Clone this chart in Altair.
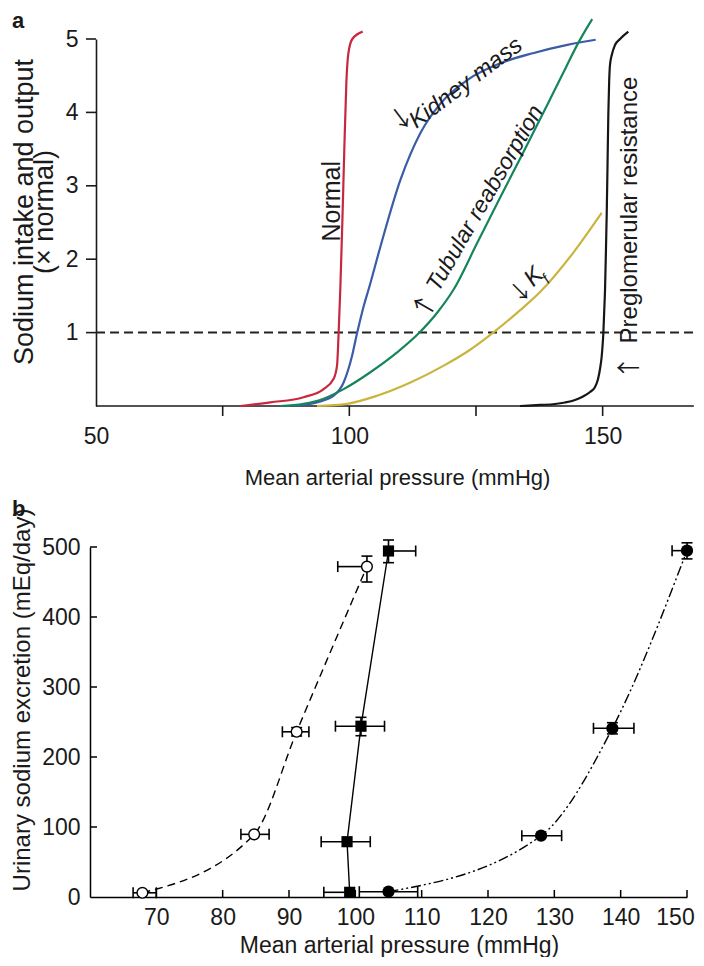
import altair as alt
import pandas as pd

FONT = "Liberation Sans"
ARROW_FONT = "Noto Sans CJK JP"
INK = "#1a1a1a"

# ---------------- Panel a : pressure-natriuresis curves ----------------
series_names = ["Normal", "Kidney mass", "Tubular reabsorption", "Kf", "Preglomerular resistance"]
series_colors = ["#c8283f", "#3b5ca6", "#17855a", "#c9b53e", "#161616"]

normal_x = [78.46, 84.39, 90.97, 94.92, 96.90, 97.57, 97.89, 98.22, 98.62, 99.01, 99.41, 99.80, 100.59, 102.63]
normal_y = [0.0, 0.05, 0.12, 0.23, 0.37, 0.55, 1.0, 1.6, 2.5, 3.5, 4.4, 4.8, 5.0, 5.1]

kidney_x = [88.99, 93.62, 96.90, 98.87, 100.53, 101.52, 102.83, 103.81, 106.13, 110.08, 114.03,
            117.98, 123.26, 129.84, 136.42, 143.02, 148.62]
kidney_y = [0.0, 0.05, 0.14, 0.32, 0.68, 0.99, 1.36, 1.59, 2.17, 3.08, 3.72,
            4.12, 4.44, 4.67, 4.81, 4.92, 4.99]

tubular_x = [86.36, 90.97, 94.92, 98.87, 104.15, 109.43, 113.70, 117.33, 120.61, 125.23,
             129.84, 134.45, 139.06, 142.87, 144.98, 147.94]
tubular_y = [0.0, 0.03, 0.10, 0.23, 0.46, 0.73, 0.99, 1.27, 1.59, 2.22,
             2.85, 3.47, 4.10, 4.63, 4.92, 5.27]

kf_x = [93.62, 99.55, 105.47, 112.06, 118.64, 123.91, 128.20, 133.79, 137.75, 144.33, 149.80]
kf_y = [0.0, 0.03, 0.14, 0.32, 0.55, 0.77, 0.99, 1.31, 1.56, 2.10, 2.63]

preglom_x = [133.69, 137.64, 140.60, 142.57, 144.55, 146.13, 147.51, 148.50, 149.09, 149.48,
             149.78, 149.98, 150.13, 150.31, 150.47, 150.67, 150.80, 150.96, 151.12, 151.29,
             151.45, 151.85, 152.44, 153.43, 155.07]
preglom_y = [0.0, 0.014, 0.027, 0.048, 0.082, 0.129, 0.191, 0.259, 0.368, 0.504,
             0.654, 0.817, 0.981, 1.294, 1.580, 2.180, 2.602, 3.270, 3.965, 4.428,
             4.646, 4.796, 4.918, 5.000, 5.100]

a_xticks = [75, 100, 125, 150]
a_xlabels = [50, 100, 150]
a_yticks = [1, 2, 3, 4, 5]

rows = []
for name, xs, ys in [("Normal", normal_x, normal_y), ("Kidney mass", kidney_x, kidney_y),
                     ("Tubular reabsorption", tubular_x, tubular_y), ("Kf", kf_x, kf_y),
                     ("Preglomerular resistance", preglom_x, preglom_y)]:
    for i, (xv, yv) in enumerate(zip(xs, ys)):
        rows.append({"series": name, "x": xv, "y": yv, "i": i})
curves_df = pd.DataFrame(rows)

xa_scale = alt.Scale(domain=[48.81, 168.23], nice=False, zero=False)
ya_scale = alt.Scale(domain=[0, 5], nice=False, zero=False)

axis_a_x = alt.Axis(values=a_xlabels, domain=False, ticks=False, tickSize=0, grid=False,
                    labelFlush=False, labelFont=FONT, labelFontSize=23, labelColor=INK,
                    labelPadding=19, title="Mean arterial pressure (mmHg)", titleFont=FONT,
                    titleFontSize=22, titleFontWeight="normal", titleColor=INK,
                    titleX=307, titleY=78, titleAlign="center", titleBaseline="alphabetic")
axis_a_y = alt.Axis(values=a_yticks, offset=-6, ticks=False, tickSize=0, grid=False,
                    domainColor=INK, domainWidth=1.6, labelFont=FONT, labelFontSize=23,
                    labelColor=INK, labelPadding=18, title=None)

XA = alt.X("x:Q", scale=xa_scale, axis=axis_a_x)
YA = alt.Y("y:Q", scale=ya_scale, axis=axis_a_y)

ref_line = alt.Chart(pd.DataFrame({"x": [50], "x2": [168.0], "y": [1]})).mark_rule(
    strokeDash=[9, 5], strokeWidth=2, color="#222222").encode(x=XA, x2="x2:Q", y=YA)

x_axis_line = alt.Chart(pd.DataFrame({"x": [50], "x2": [168.0], "y": [0]})).mark_rule(
    strokeWidth=1.6, color=INK).encode(x=XA, x2="x2:Q", y=YA)

curves = alt.Chart(curves_df).mark_line(strokeWidth=2.2, interpolate="monotone").encode(
    x=XA, y=YA,
    color=alt.Color("series:N", scale=alt.Scale(domain=series_names, range=series_colors), legend=None),
    order="i:Q")

a_xtick_marks = alt.Chart(pd.DataFrame({"x": a_xticks})).mark_rule(strokeWidth=1.6, color=INK).encode(
    x=XA, y=alt.value(367), y2=alt.value(377))
a_ytick_marks = alt.Chart(pd.DataFrame({"y": a_yticks})).mark_rule(strokeWidth=1.6, color=INK).encode(
    y=YA, x=alt.value(-4), x2=alt.value(6))


def label(text, x, y, angle, size, style="normal", font=FONT):
    return alt.Chart(pd.DataFrame({"x": [x], "y": [y], "t": [text]})).mark_text(
        font=font, fontSize=size, fontStyle=style, angle=angle, align="center",
        baseline="middle", color=INK, clip=True).encode(x=XA, y=YA, text="t:N")


annotations = [
    label("Normal", 96.58, 2.79, 270, 25),
    label("Kidney mass", 123.0, 4.40, 323, 23.5, "italic"),
    label("↓", 110.4, 3.90, 323, 24, font=ARROW_FONT),
    label("Tubular reabsorption", 126.78, 2.83, 300, 23, "italic"),
    label("↑", 115.0, 1.35, 300, 24, font=ARROW_FONT),
    label("K", 136.45, 1.76, 315, 24, "italic"),
    label("f", 138.82, 1.73, 315, 15, "italic"),
    label("↓", 133.9, 1.55, 315, 22, font=ARROW_FONT),
    label("Preglomerular resistance", 155.40, 2.67, 270, 24),
    label("↑", 155.40, 0.52, 270, 24, font=ARROW_FONT),
]


def pixel_text(text, x, y, size, angle=0, weight="normal", align="center", baseline="middle"):
    return alt.Chart(pd.DataFrame({"t": [text]})).mark_text(
        font=FONT, fontSize=size, fontWeight=weight, angle=angle, align=align,
        baseline=baseline, color=INK).encode(x=alt.value(x), y=alt.value(y), text="t:N")


tag_a = pixel_text("a", -78, -28, 22, weight="bold", align="left", baseline="top")
ytitle_a1 = pixel_text("Sodium intake and output", -65.5, 173, 27, angle=270)
ytitle_a2 = pixel_text("(× normal)", -45.5, 173, 27, angle=270)

panel_a = alt.layer(ref_line, x_axis_line, curves, a_xtick_marks, a_ytick_marks,
                    *annotations, tag_a, ytitle_a1, ytitle_a2).properties(width=605, height=367)

# ---------------- Panel b : measured excretion vs pressure ----------------
open_x = [67.9, 84.75, 91.15, 101.75]
open_y = [6, 89.5, 236, 472]
open_xlo = [66.5, 82.75, 89.0, 97.35]
open_xhi = [70.0, 87.0, 93.0, None]
open_ylo = [None, None, 230, 450]
open_yhi = [None, None, 242, 487]

sq_x = [99.15, 98.75, 100.85, 105.0]
sq_y = [6.7, 79, 244, 494.3]
sq_xlo = [95.25, 94.85, 97.0, None]
sq_xhi = [None, 102.25, 104.4, 109.1]
sq_ylo = [None, None, 230.4, 477.6]
sq_yhi = [None, None, 256.7, 510]

fc_x = [105.0, 128.0, 138.75, 150.0]
fc_y = [7.6, 87.6, 241, 494.8]
fc_xlo = [100.6, 125.1, 135.9, 147.75]
fc_xhi = [109.4, 131.1, 142.0, None]
fc_ylo = [None, None, 233, 483]
fc_yhi = [None, None, 249, 506]

b_xticks = [70, 80, 90, 100, 110, 120, 130, 140, 150]
b_yticks = [0, 100, 200, 300, 400, 500]

xb_scale = alt.Scale(domain=[60, 150], nice=False, zero=False)
yb_scale = alt.Scale(domain=[0, 500], nice=False, zero=False)

axis_b_x = alt.Axis(values=b_xticks, ticks=False, tickSize=0, grid=False, labelFlush=False,
                    domainColor="#000000", domainWidth=1.5, labelFont=FONT, labelFontSize=23,
                    labelColor=INK, labelPadding=9,
                    labelOffset={"condition": {"test": "datum.value == 150", "value": -12}, "value": 0},
                    title="Mean arterial pressure (mmHg)",
                    titleFont=FONT, titleFontSize=23, titleFontWeight="normal", titleColor=INK,
                    titleX=309, titleY=55, titleAlign="center", titleBaseline="alphabetic")
axis_b_y = alt.Axis(values=b_yticks, ticks=False, tickSize=0, grid=False,
                    domainColor="#000000", domainWidth=1.5, labelFont=FONT, labelFontSize=23,
                    labelColor=INK, labelPadding=10, title=None)

XB = alt.X("x:Q", scale=xb_scale, axis=axis_b_x)
YB = alt.Y("y:Q", scale=yb_scale, axis=axis_b_y)


def group_frames(xs, ys, xlo, xhi, ylo, yhi):
    pts = pd.DataFrame({"x": xs, "y": ys})
    hbar, vbar, hcap, vcap = [], [], [], []
    for i in range(len(xs)):
        lo = xlo[i] if xlo[i] is not None else xs[i]
        hi = xhi[i] if xhi[i] is not None else xs[i]
        if lo != hi:
            hbar.append({"x": lo, "x2": hi, "y": ys[i]})
        for v in (xlo[i], xhi[i]):
            if v is not None:
                hcap.append({"x": v, "y": ys[i]})
        if ylo[i] is not None:
            vbar.append({"x": xs[i], "y": ylo[i], "y2": yhi[i]})
            vcap.append({"x": xs[i], "y": ylo[i]})
            vcap.append({"x": xs[i], "y": yhi[i]})
    return pts, pd.DataFrame(hbar), pd.DataFrame(vbar), pd.DataFrame(hcap), pd.DataFrame(vcap)


def errorbars(hbar, vbar, hcap, vcap):
    layers = []
    if len(hbar):
        layers.append(alt.Chart(hbar).mark_rule(strokeWidth=1.6, color="#000000").encode(
            x=XB, x2="x2:Q", y=YB))
    if len(vbar):
        layers.append(alt.Chart(vbar).mark_rule(strokeWidth=1.6, color="#000000").encode(
            x=XB, y=YB, y2="y2:Q"))
    if len(hcap):
        layers.append(alt.Chart(hcap).mark_tick(orient="vertical", size=11, thickness=1.6,
                                                color="#000000", opacity=1).encode(x=XB, y=YB))
    if len(vcap):
        layers.append(alt.Chart(vcap).mark_tick(orient="horizontal", size=11, thickness=1.6,
                                                color="#000000", opacity=1).encode(x=XB, y=YB))
    return layers


o_pts, o_hb, o_vb, o_hc, o_vc = group_frames(open_x, open_y, open_xlo, open_xhi, open_ylo, open_yhi)
s_pts, s_hb, s_vb, s_hc, s_vc = group_frames(sq_x, sq_y, sq_xlo, sq_xhi, sq_ylo, sq_yhi)
f_pts, f_hb, f_vb, f_hc, f_vc = group_frames(fc_x, fc_y, fc_xlo, fc_xhi, fc_ylo, fc_yhi)

line_open = alt.Chart(o_pts).mark_line(strokeDash=[8, 5], strokeWidth=1.4, color="#000000",
                                       interpolate="monotone").encode(x=XB, y=YB)
line_sq = alt.Chart(s_pts).mark_line(strokeWidth=1.4, color="#000000").encode(
    x=XB, y=YB, order="y:Q")
line_fc = alt.Chart(f_pts).mark_line(strokeDash=[10, 3, 2, 3, 2, 3], strokeWidth=1.4,
                                     color="#000000", interpolate="monotone").encode(x=XB, y=YB)

mk_open = alt.Chart(o_pts).mark_point(shape="circle", filled=True, fill="white", stroke="#000000",
                                      strokeWidth=1.4, size=115, opacity=1).encode(x=XB, y=YB)
mk_sq = alt.Chart(s_pts).mark_point(shape="square", filled=True, color="#000000", size=125,
                                    opacity=1).encode(x=XB, y=YB)
mk_fc = alt.Chart(f_pts).mark_point(shape="circle", filled=True, color="#000000", size=150,
                                    opacity=1).encode(x=XB, y=YB)

b_xtick_marks = alt.Chart(pd.DataFrame({"x": b_xticks})).mark_rule(strokeWidth=1.5, color="#000000").encode(
    x=XB, y=alt.value(350), y2=alt.value(343))
b_ytick_marks = alt.Chart(pd.DataFrame({"y": b_yticks[1:]})).mark_rule(strokeWidth=1.5, color="#000000").encode(
    y=YB, x=alt.value(0), x2=alt.value(7))

tag_b = pixel_text("b", -78, -48, 22, weight="bold", align="left", baseline="top")
ytitle_b = pixel_text("Urinary sodium excretion (mEq/day)", -67, 153, 24, angle=270)

b_layers = [line_open, line_sq, line_fc]
b_layers += errorbars(o_hb, o_vb, o_hc, o_vc)
b_layers += errorbars(s_hb, s_vb, s_hc, s_vc)
b_layers += errorbars(f_hb, f_vb, f_hc, f_vc)
b_layers += [mk_open, mk_sq, mk_fc, b_xtick_marks, b_ytick_marks, tag_b, ytitle_b]

panel_b = alt.layer(*b_layers).properties(width=597, height=350)

chart = alt.vconcat(panel_a, panel_b, spacing=141, bounds="flush").properties(
    padding={"left": 2, "top": 2, "right": 0, "bottom": 0},
    background="white",
).configure_view(stroke=None)

chart.save("out.html", embed_options={"renderer": "svg", "actions": False})
